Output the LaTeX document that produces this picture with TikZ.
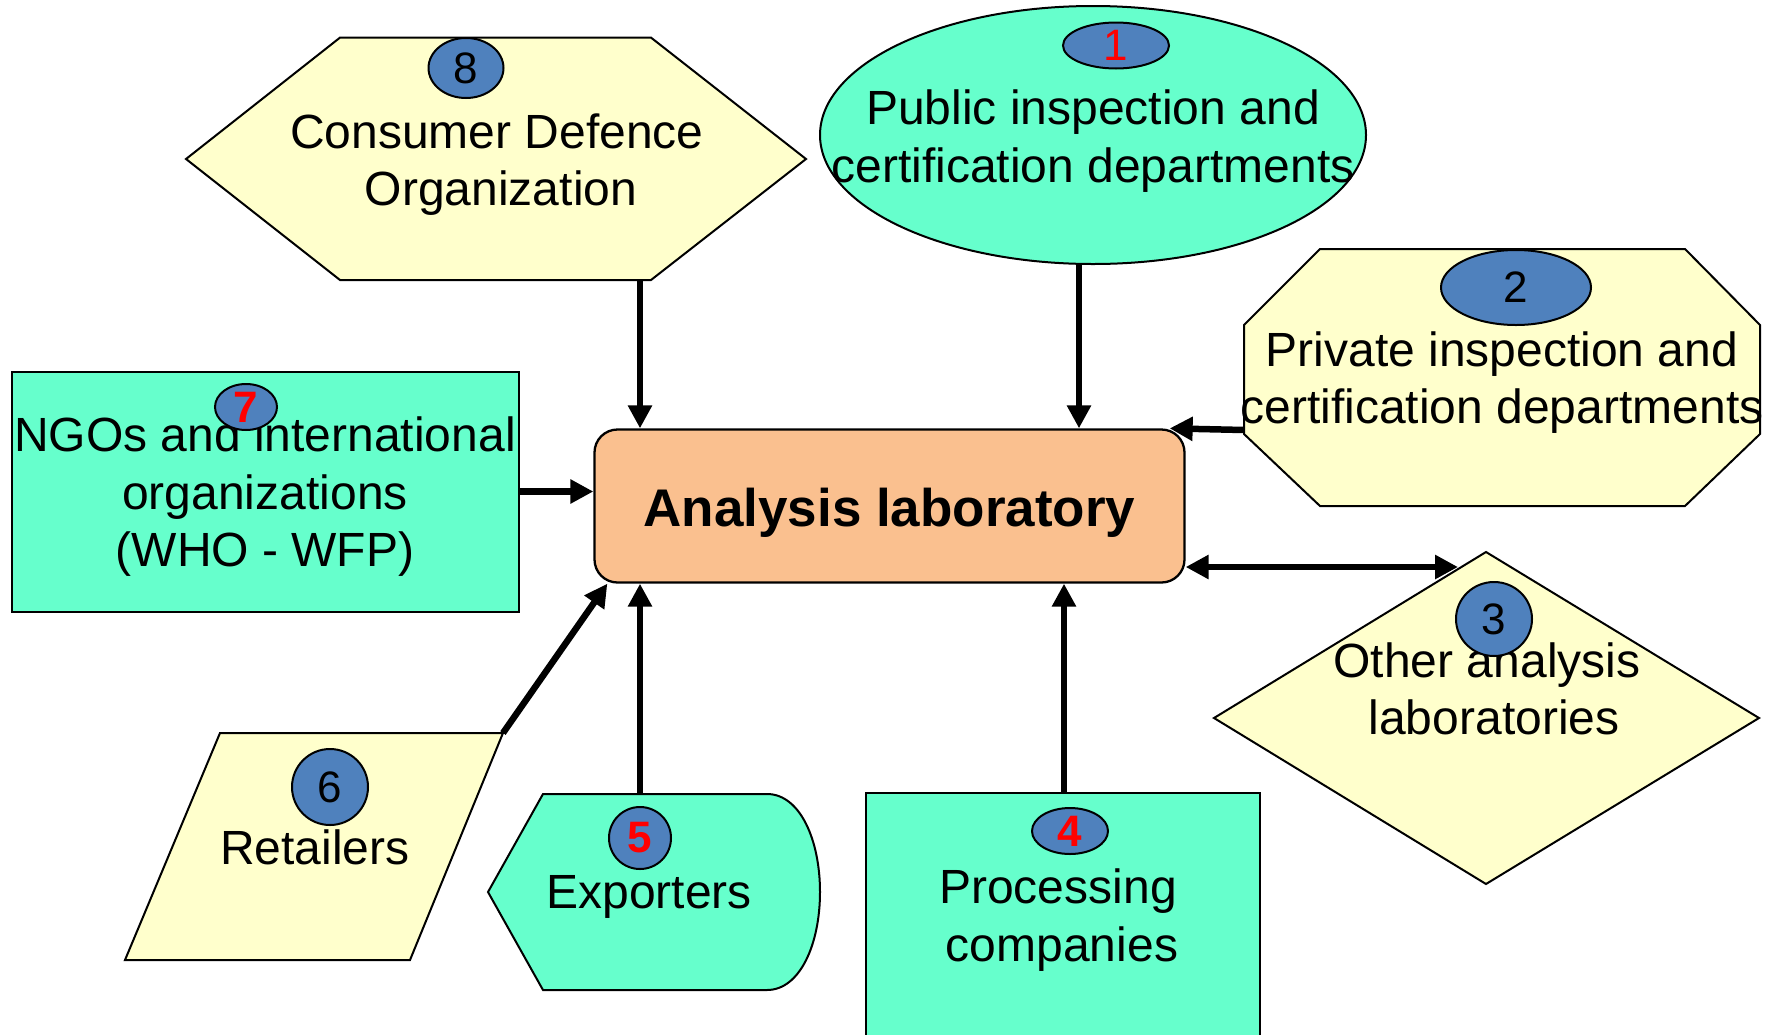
\documentclass[tikz,border=0pt]{standalone}
\usepackage{fontspec}
\setmainfont{Liberation Sans}
\usetikzlibrary{arrows.meta,calc}
\definecolor{tealc}{HTML}{66FFCC}
\definecolor{yelc}{HTML}{FFFFCC}
\definecolor{orngc}{HTML}{FAC08F}
\definecolor{bluec}{HTML}{4F81BD}
\begin{document}
\begin{tikzpicture}[x=1pt,y=-1pt,
  shp/.style={draw=black,line width=2pt,line join=miter},
  badge/.style={draw=black,line width=2pt,fill=bluec},
  lbl/.style={anchor=base,inner sep=0pt,font=\fontsize{48}{56}\selectfont},
  num/.style={inner sep=0pt,font=\fontsize{44}{52}\selectfont},
  rednum/.style={inner sep=0pt,text=red,font=\fontsize{44}{52}\selectfont\bfseries},
  conn/.style={line width=6.5pt,-{Triangle[length=23pt,width=23pt]}},
  dconn/.style={line width=6.5pt,{Triangle[length=23pt,width=23pt]}-{Triangle[length=23pt,width=23pt]}},
]
\useasboundingbox (0,0) rectangle (1767,1034);

% ---------- 8 Consumer Defence Organization (hexagon)
\draw[shp,fill=yelc] (186,159) -- (340,37.6) -- (651,37.6) -- (806,159) -- (651,280) -- (340,280) -- cycle;
\node[lbl] (cdo1) at (497,148) {Consumer Defence};
\node[lbl] (cdo2) at (501,205) {Organization};
\coordinate (cdo-s) at (640,280);
\draw[badge] (466,68) ellipse [x radius=37.5pt, y radius=30pt];
\node[num] (n8) at (466,68) {8};

% ---------- 1 Public inspection (ellipse)
\draw[shp,fill=tealc] (1093,135) ellipse [x radius=273pt, y radius=129pt];
\node[lbl] (pub1) at (1093,124.5) {Public inspection and};
\node[lbl] (pub2) at (1093,182) {certification departments};
\coordinate (pub-s) at (1079,264);
\draw[badge] (1116,45.5) ellipse [x radius=53pt, y radius=23pt];
\node[num,text=red] (n1) at (1116,45.5) {1};

% ---------- 2 Private inspection (octagon)
\draw[shp,fill=yelc] (1320,249) -- (1685,249) -- (1760,325) -- (1760,434) -- (1685,506) -- (1320,506) -- (1244,434) -- (1244,325) -- cycle;
\node[lbl] (priv1) at (1502,366) {Private inspection and};
\node[lbl] (priv2) at (1502,423) {certification departments};
\coordinate (priv-w) at (1244,430);
\draw[badge] (1516,287.5) ellipse [x radius=75pt, y radius=37.5pt];
\node[num] (n2) at (1516,287.5) {2};

% ---------- 3 Other analysis laboratories (diamond)
\draw[shp,fill=yelc] (1486,552) -- (1759,718) -- (1486,884) -- (1214,718) -- cycle;
\node[lbl] (oth1) at (1487,677) {Other analysis};
\node[lbl] (oth2) at (1494,734) {laboratories};
\coordinate (oth-w) at (1458,567);
\draw[badge] (1494,619) ellipse [x radius=38pt, y radius=37pt];
\node[num] (n3) at (1494,619) {3};

% ---------- 4 Processing companies (rectangle)
\draw[shp,fill=tealc] (866,793) rectangle (1260,1045);
\node[lbl] (proc1) at (1058,903) {Processing};
\node[lbl] (proc2) at (1062,961) {companies};
\coordinate (proc-n) at (1064,793);
\draw[badge] (1070,831) ellipse [x radius=38pt, y radius=23pt];
\node[rednum] (n4) at (1070,831) {4};

% ---------- 5 Exporters (display shape)
\draw[shp,fill=tealc] (488,892) -- (543,794) -- (767,794)
  .. controls (800,794) and (820,840) .. (820,892)
  .. controls (820,944) and (800,990) .. (767,990)
  -- (543,990) -- cycle;
\node[lbl] (exp1) at (649,908) {Exporters};
\coordinate (exp-n) at (640,794);
\draw[badge] (640,838) ellipse [x radius=31pt, y radius=31pt];
\node[rednum] (n5) at (640,838) {5};

% ---------- 6 Retailers (parallelogram)
\draw[shp,fill=yelc] (220,733) -- (503,733) -- (410,960) -- (125,960) -- cycle;
\node[lbl] (ret1) at (315,864) {Retailers};
\coordinate (ret-ne) at (503,733);
\draw[badge] (330,787) ellipse [x radius=38pt, y radius=38pt];
\node[num] (n6) at (330,787) {6};

% ---------- 7 NGOs (rectangle)
\draw[shp,fill=tealc] (12,372) rectangle (519,612);
\node[lbl] (ngo1) at (265,451) {NGOs and international};
\node[lbl] (ngo2) at (265,509) {organizations};
\node[lbl] (ngo3) at (265,566) {(WHO - WFP)};
\coordinate (ngo-e) at (519,491.5);
\draw[badge] (246,407) ellipse [x radius=31pt, y radius=23pt];
\node[rednum] (n7) at (246,407) {7};

% ---------- central lab
\node[draw=black,line width=2.3pt,fill=orngc,rounded corners=23pt,
      minimum width=590pt,minimum height=153pt,inner sep=0pt,
      text height=40pt,text depth=0pt,
      font=\fontsize{53}{60}\selectfont\bfseries] (lab) at (889.5,506) {Analysis laboratory};

% ---------- connectors
\draw[conn] (cdo-s) -- (cdo-s |- lab.north);
\draw[conn] (pub-s) -- (pub-s |- lab.north);
\draw[conn] (priv-w) -- ($(lab.north east)+(-16,0)$);
\draw[conn] (ngo-e) -- (ngo-e -| lab.west);
\draw[conn] (ret-ne) -- ($(lab.south west)+(14,0)$);
\draw[conn] (exp-n) -- (exp-n |- lab.south);
\draw[conn] (proc-n) -- (proc-n |- lab.south);
\draw[dconn] (oth-w -| lab.east) -- (oth-w);
\end{tikzpicture}
\end{document}
